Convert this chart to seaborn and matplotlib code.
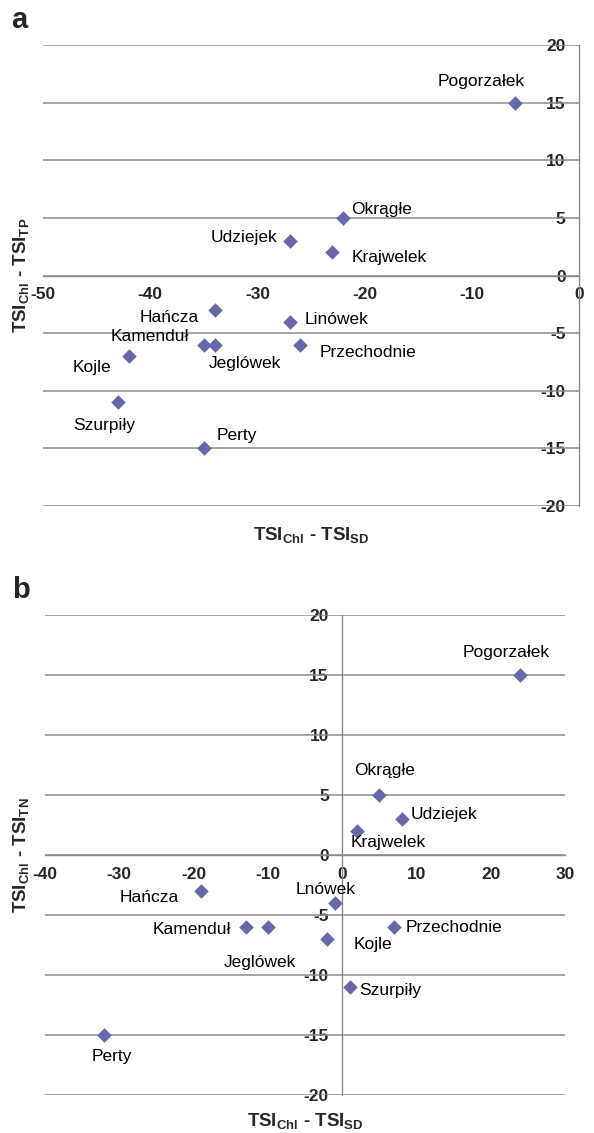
import matplotlib
matplotlib.use("Agg")
import matplotlib.pyplot as plt
import seaborn as sns
import pandas as pd
from matplotlib.ticker import MultipleLocator

# ---------------- data ----------------
lakes_a = ["Pogorzałek", "Okrągłe", "Udziejek", "Krajwelek", "Hańcza", "Linówek",
           "Kamenduł", "Jeglówek", "Przechodnie", "Kojle", "Szurpiły", "Perty"]
chl_sd_a = [-6, -22, -27, -23, -34, -27, -35, -34, -26, -42, -43, -35]
chl_tp_a = [15, 5, 3, 2, -3, -4, -6, -6, -6, -7, -11, -15]

lakes_b = ["Pogorzałek", "Okrągłe", "Udziejek", "Krajwelek", "Hańcza", "Lnówek",
           "Kamenduł", "Jeglówek", "Kojle", "Przechodnie", "Szurpiły", "Perty"]
chl_sd_b = [24, 5, 8, 2, -19, -1, -13, -10, -2, 7, 1, -32]
chl_tn_b = [15, 5, 3, 2, -3, -4, -6, -6, -7, -6, -11, -15]

yticks = [-20, -15, -10, -5, 0, 5, 10, 15, 20]
xticks_a = [-50, -40, -30, -20, -10, 0]
xticks_b = [-40, -30, -20, -10, 0, 10, 20, 30]

# label placement (pixel offsets from point: dx right, dy down; alignment)
offs_a = {
    "Pogorzałek": (-33, -21, "center"), "Okrągłe": (8, -8, "left"),
    "Udziejek": (-12, -3, "right"), "Krajwelek": (19, 5, "left"),
    "Hańcza": (-16, 7, "right"), "Linówek": (15, -2, "left"),
    "Kamenduł": (-15, -8, "right"), "Jeglówek": (-6, 19, "left"),
    "Przechodnie": (19, 8, "left"), "Kojle": (-18, 11, "right"),
    "Szurpiły": (-14, 23, "center"), "Perty": (13, -13, "left"),
}
offs_b = {
    "Pogorzałek": (-14, -22, "center"), "Okrągłe": (5, -24, "center"),
    "Udziejek": (9, -5, "left"), "Krajwelek": (-6, 11, "left"),
    "Hańcza": (-22, 7, "right"), "Lnówek": (-9, -13, "center"),
    "Kamenduł": (-15, 2, "right"), "Jeglówek": (-8, 35, "center"),
    "Kojle": (26, 6, "left"), "Przechodnie": (11, 0, "left"),
    "Szurpiły": (10, 3, "left"), "Perty": (7, 21, "center"),
}

sns.set_style("white")
plt.rcParams["font.family"] = ["Liberation Sans", "DejaVu Sans"]
plt.rcParams["mathtext.fontset"] = "custom"
plt.rcParams["mathtext.rm"] = "Liberation Sans"
plt.rcParams["mathtext.bf"] = "Liberation Sans:bold"
plt.rcParams["mathtext.it"] = "Liberation Sans:italic"
plt.rcParams["axes.unicode_minus"] = False

W, H = 594, 1133
fig = plt.figure(figsize=(W / 100, H / 100), dpi=100)

MARKER_COLOR = "#6667AB"
GRID = "#8a8a8a"
PX = 0.72  # px -> points at 100 dpi


def make_panel(rect, names, xs, ys, xticks, offs, xlabel, ylabel, xlab_y, ylab_x):
    ax = fig.add_axes(rect)
    df = pd.DataFrame({"x": xs, "y": ys, "name": names})
    sns.scatterplot(data=df, x="x", y="y", marker="D", s=55, color=MARKER_COLOR,
                    linewidth=0, ax=ax, zorder=5)
    ax.set_xlim(xticks[0], xticks[-1])
    ax.set_ylim(yticks[0], yticks[-1])
    ax.set_xticks(xticks)
    ax.set_yticks(yticks)
    ax.xaxis.set_minor_locator(MultipleLocator(2))
    ax.yaxis.set_minor_locator(MultipleLocator(1))
    for yv in yticks:
        ax.axhline(yv, color=GRID, lw=1.1, zorder=1)
    ax.grid(False)
    for s in ["top", "right"]:
        ax.spines[s].set_visible(False)
    ax.spines["left"].set_position(("data", 0))
    ax.spines["bottom"].set_position(("data", 0))
    for s in ["left", "bottom"]:
        ax.spines[s].set_color(GRID)
        ax.spines[s].set_linewidth(1.0)
        ax.spines[s].set_zorder(2)
    ax.tick_params(axis="both", which="major", direction="out", length=3.6,
                   width=0.9, color=GRID, labelsize=12.5)
    ax.tick_params(axis="both", which="minor", direction="out", length=2.9,
                   width=0.9, color=GRID)
    ax.tick_params(axis="y", which="major", pad=6.0)
    ax.tick_params(axis="x", which="major", pad=5.0)
    for lab in ax.get_xticklabels() + ax.get_yticklabels():
        lab.set_fontweight("bold")
        lab.set_zorder(3)
    ax.set_xlabel(xlabel, fontsize=13.5, fontweight="bold")
    ax.set_ylabel(ylabel, fontsize=13.5, fontweight="bold")
    ax.xaxis.set_label_coords(0.5, xlab_y)
    ax.yaxis.set_label_coords(ylab_x, 0.5)
    for n, x, y in zip(names, xs, ys):
        dx, dy, ha = offs[n]
        ax.annotate(n, (x, y), xytext=(dx * PX, -dy * PX), textcoords="offset points",
                    ha=ha, va="center", fontsize=12.5, color="black", zorder=6)
    return ax


xl = r"TSI$_{\mathbf{Chl}}$ - TSI$_{\mathbf{SD}}$"
make_panel([43 / W, 1 - 506 / H, 536 / W, 461 / H], lakes_a, chl_sd_a, chl_tp_a,
           xticks_a, offs_a, xl, r"TSI$_{\mathbf{Chl}}$ - TSI$_{\mathbf{TP}}$",
           -0.042, -0.022)
make_panel([45 / W, 1 - 1095 / H, 520 / W, 480 / H], lakes_b, chl_sd_b, chl_tn_b,
           xticks_b, offs_b, xl, r"TSI$_{\mathbf{Chl}}$ - TSI$_{\mathbf{TN}}$",
           -0.034, -0.027)

fig.text(11 / W, 1 - 28 / H, "a", fontsize=21, fontweight="bold", va="baseline", ha="left")
fig.text(12 / W, 1 - 598 / H, "b", fontsize=21, fontweight="bold", va="baseline", ha="left")

fig.savefig("out.png", dpi=100)
